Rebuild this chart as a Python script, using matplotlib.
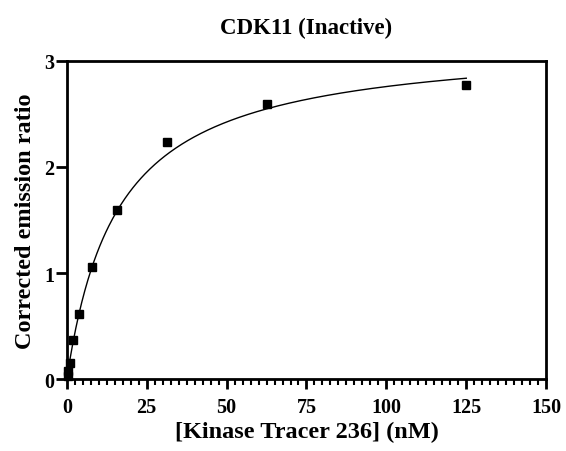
import numpy as np
import matplotlib
matplotlib.use("Agg")
import matplotlib.pyplot as plt
from matplotlib.ticker import MultipleLocator

# Data
tracer_nM = [0.24, 0.49, 0.98, 1.95, 3.9, 7.8, 15.6, 31.25, 62.5, 125.0]
emission_ratio = [0.03, 0.08, 0.15, 0.37, 0.61, 1.06, 1.59, 2.24, 2.59, 2.77]
# One-site binding fit parameters (Bmax, Kd)
fit_bmax = 3.2
fit_kd = 16.0

title = "CDK11 (Inactive)"
xlabel = "[Kinase Tracer 236] (nM)"
ylabel = "Corrected emission ratio"
xticks = [0, 25, 50, 75, 100, 125, 150]
yticks = [0, 1, 2, 3]

plt.rcParams['font.family'] = ['Liberation Serif', 'DejaVu Serif']
plt.rcParams['font.weight'] = 'bold'

fig = plt.figure(figsize=(5.66, 4.52), dpi=100)
ax = fig.add_axes([0.118, 0.159, 0.847, 0.704])

xs = np.linspace(0, max(tracer_nM), 400)
ax.plot(xs, fit_bmax * xs / (fit_kd + xs), color='black', lw=1.0, zorder=2)
ax.plot(tracer_nM, emission_ratio, 's', color='black', ms=6, clip_on=False, zorder=3)

ax.set_xlim(0, 150)
ax.set_ylim(0, 3)
ax.set_xticks(xticks)
ax.set_yticks(yticks)
ax.xaxis.set_minor_locator(MultipleLocator(2.5))
for s in ax.spines.values():
    s.set_linewidth(2)
ax.tick_params(axis='x', which='major', direction='out', length=7, width=2,
               labelsize=14.5, pad=6)
ax.tick_params(axis='y', which='major', direction='out', length=8, width=2,
               labelsize=14.5, pad=1)
ax.tick_params(axis='x', which='minor', direction='out', length=4, width=1.5)
for lbl in ax.get_xticklabels() + ax.get_yticklabels():
    lbl.set_fontweight('bold')

ax.set_xlabel(xlabel, fontsize=17.5, fontweight='bold', labelpad=3)
ax.set_ylabel(ylabel, fontsize=17.5, fontweight='bold', labelpad=6)
ax.set_title(title, fontsize=16.5, fontweight='bold', pad=20)

fig.savefig("out.png", dpi=100)
